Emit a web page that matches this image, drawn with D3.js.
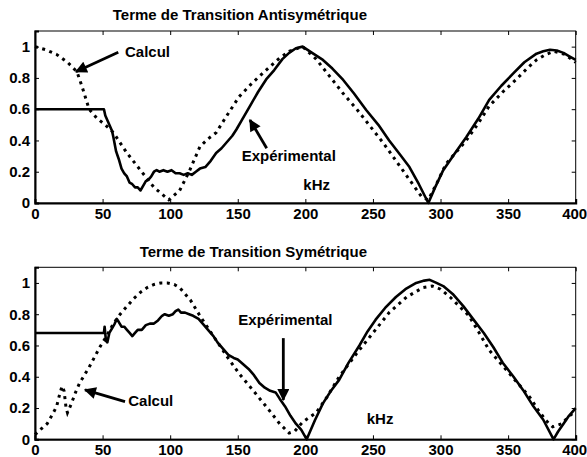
<!DOCTYPE html>
<html>
<head>
<meta charset="utf-8">
<script src="https://cdn.jsdelivr.net/npm/d3@7"></script>
<style>
  body { margin: 0; background: #fff; }
  text { font-family: "Liberation Sans", Arial, sans-serif; font-weight: bold; fill: #000; }
</style>
</head>
<body>
<div id="chart"></div>
<script>
// x ticks (kHz) and y ticks shared by both panels
const xTicks = [0, 50, 100, 150, 200, 250, 300, 350, 400]
const yTicks = [0, 0.2, 0.4, 0.6, 0.8, 1]

// panel 1 : antisymetric term
const antiCalcul = [[0, 1], [8, 0.98], [16, 0.95], [24, 0.9], [31, 0.84], [35, 0.74], [40, 0.6], [46, 0.54], [52, 0.5], [58, 0.45], [68, 0.32], [78, 0.21], [88, 0.1], [99, 0.02], [107, 0.08], [114, 0.2], [122, 0.36], [128, 0.41], [134, 0.45], [142, 0.56], [151, 0.68], [161, 0.77], [171, 0.85], [180, 0.92], [188, 0.97], [198, 1.0], [208, 0.92], [218, 0.81], [228, 0.7], [238, 0.6], [248, 0.49], [258, 0.38], [272, 0.21], [286, 0.04], [291, 0.02], [298, 0.14], [304, 0.25], [312, 0.33], [319, 0.4], [328, 0.51], [336, 0.62], [346, 0.71], [356, 0.79], [364, 0.86], [371, 0.915], [378, 0.95], [384, 0.97], [392, 0.95], [400, 0.9]]
const antiExp = [[0, 0.6], [51, 0.6], [52, 0.56], [55, 0.5], [57, 0.46], [58, 0.42], [60, 0.33], [62, 0.28], [64, 0.22], [66, 0.19], [68, 0.17], [70, 0.13], [72, 0.12], [74, 0.1], [76, 0.1], [78, 0.08], [80, 0.11], [82, 0.14], [84, 0.15], [86, 0.17], [88, 0.2], [90, 0.21], [92, 0.2], [95, 0.21], [98, 0.2], [101, 0.21], [104, 0.19], [107, 0.19], [110, 0.18], [113, 0.19], [116, 0.18], [119, 0.2], [122, 0.22], [126, 0.23], [130, 0.27], [134, 0.32], [138, 0.35], [142, 0.39], [146, 0.43], [149, 0.47], [153, 0.53], [159, 0.62], [165, 0.71], [171, 0.79], [177, 0.85], [183, 0.92], [188, 0.96], [193, 0.99], [198, 1.0], [205, 0.96], [213, 0.915], [220, 0.86], [228, 0.787], [236, 0.7], [245, 0.595], [254, 0.5], [262, 0.4], [270, 0.31], [277, 0.23], [284, 0.12], [291, 0.0], [296, 0.1], [302, 0.21], [310, 0.31], [319, 0.42], [328, 0.54], [336, 0.66], [345, 0.75], [354, 0.83], [362, 0.9], [371, 0.955], [376, 0.97], [381, 0.98], [386, 0.975], [391, 0.96], [395, 0.94], [400, 0.915]]

// panel 2 : symetric term
const symCalcul = [[0, 0.03], [5, 0.07], [9, 0.1], [13, 0.16], [16, 0.21], [18, 0.28], [20, 0.34], [21.5, 0.31], [23, 0.2], [24, 0.17], [27, 0.23], [30, 0.3], [33, 0.36], [40, 0.46], [48, 0.59], [53, 0.66], [58, 0.74], [63, 0.8], [68, 0.85], [73, 0.9], [78, 0.94], [83, 0.97], [88, 0.99], [93, 1.0], [98, 1.0], [103, 0.99], [107, 0.97], [111, 0.93], [115, 0.89], [122, 0.79], [132, 0.66], [142, 0.53], [151, 0.42], [161, 0.316], [171, 0.21], [181, 0.1], [188, 0.04], [192, 0.05], [198, 0.11], [208, 0.17], [216, 0.27], [225, 0.4], [238, 0.55], [250, 0.68], [262, 0.81], [275, 0.91], [287, 0.97], [294, 0.98], [300, 0.96], [307, 0.91], [314, 0.85], [321, 0.79], [328, 0.69], [336, 0.57], [343, 0.5], [351, 0.42], [358, 0.35], [366, 0.27], [372, 0.19], [378, 0.12], [383, 0.08], [390, 0.1], [394, 0.14], [400, 0.18]]
const symExp = [[0, 0.68], [51, 0.68], [51.5, 0.72], [52.5, 0.63], [53.5, 0.62], [55, 0.68], [57, 0.71], [59, 0.74], [60.5, 0.77], [62, 0.75], [64, 0.72], [66, 0.72], [68, 0.7], [70, 0.68], [72, 0.66], [74, 0.68], [76, 0.7], [79, 0.7], [82, 0.73], [85, 0.74], [88, 0.74], [91, 0.76], [94, 0.79], [96, 0.8], [99, 0.79], [102, 0.8], [104, 0.82], [106, 0.83], [108, 0.81], [111, 0.81], [114, 0.8], [117, 0.79], [121, 0.77], [125, 0.73], [128, 0.7], [132, 0.66], [135, 0.62], [139, 0.58], [143, 0.54], [147, 0.52], [150, 0.51], [154, 0.48], [158, 0.45], [162, 0.41], [166, 0.36], [170, 0.33], [174, 0.31], [178, 0.3], [181, 0.26], [185, 0.21], [189, 0.15], [193, 0.1], [197, 0.06], [201, 0.0], [207, 0.12], [213, 0.23], [219, 0.31], [225, 0.38], [232, 0.49], [240, 0.6], [246, 0.69], [252, 0.765], [259, 0.84], [267, 0.91], [274, 0.96], [282, 1.0], [288, 1.015], [292, 1.02], [297, 1.0], [302, 0.98], [309, 0.93], [317, 0.85], [324, 0.77], [332, 0.68], [339, 0.59], [346, 0.49], [354, 0.4], [361, 0.316], [368, 0.22], [376, 0.125], [383.6, 0.0], [387, 0.05], [391, 0.1], [395, 0.15], [400, 0.2]]

// annotations, in data units : text anchor and arrow tail -> head
const antiNotes = [
  { label: 'Calcul', at: [66.6, 0.934], tail: [61.6, 0.964], head: [30.3, 0.84] },
  { label: 'Expérimental', at: [152.9, 0.269], tail: [171.4, 0.35], head: [159, 0.531] },
  { label: 'kHz', at: [198.5, 0.086] }
]
const symNotes = [
  { label: 'Expérimental', at: [150.4, 0.733], tail: [183.7, 0.647], head: [183.7, 0.252] },
  { label: 'Calcul', at: [69, 0.213], tail: [66.6, 0.241], head: [37, 0.316] },
  { label: 'kHz', at: [245.4, 0.095] }
]

const W = 587
const H = 457

const svg = d3.select('#chart').append('svg')
  .attr('width', W)
  .attr('height', H)

svg.append('defs').append('marker')
  .attr('id', 'head')
  .attr('viewBox', '0 0 10 10')
  .attr('refX', 9)
  .attr('refY', 5)
  .attr('markerUnits', 'userSpaceOnUse')
  .attr('markerWidth', 14)
  .attr('markerHeight', 12)
  .attr('orient', 'auto')
  .append('path')
  .attr('d', 'M0,0 L10,5 L0,10 Z')
  .attr('fill', '#000')

const x = d3.scaleLinear().domain([0, 400]).range([35, 575.7])

function panel (top, bottom, title, titleY, calcul, exp, notes) {
  const y = d3.scaleLinear().domain([0, 1.1]).range([bottom, top])
  const g = svg.append('g')

  const line = d3.line().x(d => x(d[0])).y(d => y(d[1]))

  g.append('path').datum(calcul)
    .attr('d', line)
    .attr('fill', 'none')
    .attr('stroke', '#000')
    .attr('stroke-width', 3)
    .attr('stroke-dasharray', '3,4.5')

  g.append('path').datum(exp)
    .attr('d', line)
    .attr('fill', 'none')
    .attr('stroke', '#000')
    .attr('stroke-width', 2.6)
    .attr('stroke-linejoin', 'round')

  // box with inward ticks, matlab style
  g.append('rect')
    .attr('x', x(0)).attr('y', top)
    .attr('width', x(400) - x(0)).attr('height', bottom - top)
    .attr('fill', 'none').attr('stroke', '#000').attr('stroke-width', 1)

  g.append('g')
    .attr('transform', 'translate(0,' + bottom + ')')
    .call(d3.axisBottom(x).tickValues(xTicks).tickSize(-4).tickPadding(5).tickFormat(d3.format('d')))
    .call(a => a.select('.domain').attr('stroke-width', 2))
    .call(a => a.selectAll('text').style('font-size', '15px'))
    .call(a => a.selectAll('.tick text').filter(d => d === 400).attr('dx', -1.5))
  g.append('g')
    .attr('transform', 'translate(0,' + top + ')')
    .call(d3.axisTop(x).tickValues(xTicks).tickSize(-4).tickFormat(''))
    .call(a => a.select('.domain').remove())
  g.append('g')
    .attr('transform', 'translate(' + x(0) + ',0)')
    .call(d3.axisLeft(y).tickValues(yTicks).tickSize(-4).tickPadding(5).tickFormat(d3.format('~g')))
    .call(a => a.select('.domain').attr('stroke-width', 2))
    .call(a => a.selectAll('text').style('font-size', '15px'))
  g.append('g')
    .attr('transform', 'translate(' + x(400) + ',0)')
    .call(d3.axisRight(y).tickValues(yTicks).tickSize(-4).tickFormat(''))
    .call(a => a.select('.domain').remove())
  g.selectAll('.tick line').attr('stroke-width', 1)
  g.selectAll('.domain').attr('stroke', '#000')
  g.selectAll('.tick text').attr('font-family', null)

  g.append('text')
    .attr('x', 367).attr('y', titleY)
    .attr('text-anchor', 'end')
    .style('font-size', '15px')
    .text(title)

  notes.forEach(n => {
    g.append('text')
      .attr('x', x(n.at[0])).attr('y', y(n.at[1]))
      .style('font-size', '15px')
      .text(n.label)
    if (n.tail) {
      g.append('line')
        .attr('x1', x(n.tail[0])).attr('y1', y(n.tail[1]))
        .attr('x2', x(n.head[0])).attr('y2', y(n.head[1]))
        .attr('stroke', '#000')
        .attr('stroke-width', 2.8)
        .attr('marker-end', 'url(#head)')
    }
  })
}

panel(31, 203, 'Terme de Transition Antisymétrique', 20, antiCalcul, antiExp, antiNotes)
panel(267.3, 439.3, 'Terme de Transition Symétrique', 256.5, symCalcul, symExp, symNotes)
</script>
</body>
</html>
